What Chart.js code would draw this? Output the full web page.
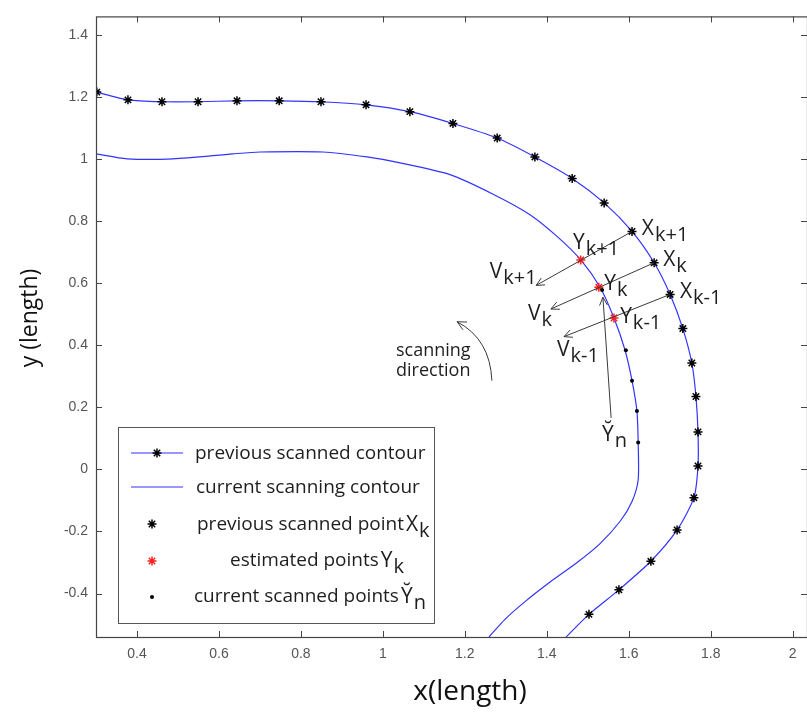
<!DOCTYPE html>
<html>
<head>
<meta charset="utf-8">
<script src="https://cdn.jsdelivr.net/npm/chart.js@4.4.0/dist/chart.umd.min.js"></script>
<style>
  html, body { margin: 0; padding: 0; background: #fff; }
  canvas { display: block; }
</style>
</head>
<body>
<canvas id="contour" width="807" height="713"></canvas>
<script>
// tick labels
const X_TICKS = [0.4, 0.6, 0.8, 1, 1.2, 1.4, 1.6, 1.8, 2];
const Y_TICKS = [-0.4, -0.2, 0, 0.2, 0.4, 0.6, 0.8, 1, 1.2, 1.4];

// previous scanned contour (line)
const PREV_LINE_X = [0.300, 0.302, 0.378, 0.461, 0.549, 0.644, 0.747, 0.849, 0.959, 1.066, 1.171, 1.279, 1.371, 1.462, 1.540, 1.608, 1.662, 1.701, 1.732, 1.754, 1.764, 1.769, 1.769, 1.759, 1.718, 1.654, 1.576, 1.503, 1.447];
const PREV_LINE_Y = [1.220, 1.216, 1.191, 1.185, 1.185, 1.188, 1.188, 1.185, 1.175, 1.153, 1.115, 1.068, 1.007, 0.938, 0.859, 0.767, 0.666, 0.564, 0.454, 0.343, 0.235, 0.121, 0.011, -0.091, -0.195, -0.296, -0.388, -0.467, -0.540];

// previous scanned points X_k (stars)
const PREV_PTS_X = [0.302, 0.378, 0.461, 0.549, 0.644, 0.747, 0.849, 0.959, 1.066, 1.171, 1.279, 1.371, 1.462, 1.540, 1.608, 1.662, 1.701, 1.732, 1.754, 1.764, 1.769, 1.769, 1.759, 1.718, 1.654, 1.576, 1.503];
const PREV_PTS_Y = [1.216, 1.191, 1.185, 1.185, 1.188, 1.188, 1.185, 1.175, 1.153, 1.115, 1.068, 1.007, 0.938, 0.859, 0.767, 0.666, 0.564, 0.454, 0.343, 0.235, 0.121, 0.011, -0.091, -0.195, -0.296, -0.388, -0.467];

// current scanning contour (line)
const CURR_LINE_X = [0.300, 0.376, 0.488, 0.634, 0.700, 0.854, 0.961, 1.042, 1.164, 1.269, 1.359, 1.425, 1.483, 1.530, 1.564, 1.591, 1.608, 1.620, 1.623, 1.623, 1.608, 1.579, 1.530, 1.474, 1.408, 1.347, 1.298, 1.259];
const CURR_LINE_Y = [1.017, 1.001, 1.001, 1.017, 1.023, 1.023, 1.007, 0.988, 0.950, 0.887, 0.821, 0.751, 0.675, 0.587, 0.488, 0.384, 0.286, 0.188, 0.087, -0.034, -0.103, -0.167, -0.239, -0.300, -0.363, -0.426, -0.483, -0.540];

// estimated points Y_k (red stars)
const EST_X = [1.483, 1.527, 1.564];
const EST_Y = [0.675, 0.587, 0.488];

// current scanned points (dots)
const CURR_PTS_X = [1.535, 1.593, 1.608, 1.620, 1.623];
const CURR_PTS_Y = [0.578, 0.384, 0.286, 0.188, 0.087];

// annotation arrows in data space: [x0, y0, x1, y1] (head at x1,y1)
const ARROWS = [
  [1.608, 0.767, 1.374, 0.593],
  [1.662, 0.666, 1.410, 0.517],
  [1.701, 0.564, 1.442, 0.428],
  [1.557, 0.166, 1.537, 0.555],
];
// scanning direction arrow: tail, control, head
const SCAN_ARROW = [1.266, 0.286, 1.262, 0.420, 1.181, 0.476];

// labels: main letter, subscript, data x (left), data y (baseline)
const LABELS = [
  ['X', 'k+1', 1.632, 0.757],
  ['X', 'k', 1.684, 0.656],
  ['X', 'k-1', 1.725, 0.552],
  ['Y', 'k+1', 1.464, 0.710],
  ['Y', 'k', 1.540, 0.577],
  ['Y', 'k-1', 1.579, 0.473],
  ['V', 'k+1', 1.261, 0.618],
  ['V', 'k', 1.354, 0.482],
  ['V', 'k-1', 1.425, 0.365],
  ['Y\u0306', 'n', 1.535, 0.093],
];

const BLUE = '#3333ff';
const RED = '#ff2020';
const INK = '#1e1e1e';
const FONT = '"Open Sans", "Noto Sans", sans-serif';

const zip = (xs, ys) => xs.map((x, i) => ({ x, y: ys[i] }));

function drawStar(ctx, x, y, r, color) {
  ctx.save();
  ctx.strokeStyle = color;
  ctx.lineWidth = 1.5;
  ctx.beginPath();
  for (let a = 0; a < 4; a++) {
    const t = a * Math.PI / 4;
    ctx.moveTo(x - Math.cos(t) * r, y - Math.sin(t) * r);
    ctx.lineTo(x + Math.cos(t) * r, y + Math.sin(t) * r);
  }
  ctx.stroke();
  ctx.restore();
}

function arrowHead(ctx, x0, y0, x1, y1, len) {
  const ang = Math.atan2(y1 - y0, x1 - x0);
  const spread = 0.45;
  ctx.beginPath();
  ctx.moveTo(x1 - len * Math.cos(ang - spread), y1 - len * Math.sin(ang - spread));
  ctx.lineTo(x1, y1);
  ctx.lineTo(x1 - len * Math.cos(ang + spread), y1 - len * Math.sin(ang + spread));
  ctx.stroke();
}

function subText(ctx, main, sub, x, y, size) {
  ctx.font = `${size}px ${FONT}`;
  ctx.fillText(main, x, y);
  const w = ctx.measureText(main).width;
  ctx.font = `${size - 1}px ${FONT}`;
  ctx.fillText(sub, x + w + 1, y + 6);
}

const overlay = {
  id: 'overlay',
  afterDatasetsDraw(chart) {
    const { ctx, scales: { x, y } } = chart;
    const px = v => x.getPixelForValue(v);
    const py = v => y.getPixelForValue(v);
    ctx.save();

    // arrows
    ctx.strokeStyle = '#3a3a3a';
    ctx.lineWidth = 1;
    ARROWS.forEach(a => {
      const x0 = px(a[0]), y0 = py(a[1]), x1 = px(a[2]), y1 = py(a[3]);
      ctx.beginPath();
      ctx.moveTo(x0, y0);
      ctx.lineTo(x1, y1);
      ctx.stroke();
      arrowHead(ctx, x0, y0, x1, y1, 9);
    });

    const s = SCAN_ARROW;
    ctx.beginPath();
    ctx.moveTo(px(s[0]), py(s[1]));
    ctx.quadraticCurveTo(px(s[2]), py(s[3]), px(s[4]), py(s[5]));
    ctx.stroke();
    arrowHead(ctx, px(s[2]), py(s[3]), px(s[4]), py(s[5]), 10);

    // labels
    ctx.fillStyle = INK;
    ctx.textBaseline = 'alphabetic';
    ctx.textAlign = 'left';
    LABELS.forEach(l => subText(ctx, l[0], l[1], px(l[2]), py(l[3]), 21));

    ctx.font = `18px ${FONT}`;
    ctx.fillText('scanning', 396, 356);
    ctx.fillText('direction', 396, 376);
    ctx.restore();
  },
  afterDraw(chart) {
    const { ctx, chartArea: a, scales: { x, y } } = chart;
    ctx.save();

    // frame with inward ticks
    ctx.strokeStyle = '#444';
    ctx.lineWidth = 1.2;
    ctx.strokeRect(a.left + 0.5, a.top + 0.5, a.right - a.left, a.bottom - a.top);
    ctx.lineWidth = 1;
    ctx.beginPath();
    X_TICKS.forEach(v => {
      const p = Math.round(x.getPixelForValue(v)) + 0.5;
      ctx.moveTo(p, a.bottom); ctx.lineTo(p, a.bottom - 6);
      ctx.moveTo(p, a.top); ctx.lineTo(p, a.top + 6);
    });
    Y_TICKS.forEach(v => {
      const p = Math.round(y.getPixelForValue(v)) + 0.5;
      ctx.moveTo(a.left, p); ctx.lineTo(a.left + 6, p);
      ctx.moveTo(a.right, p); ctx.lineTo(a.right - 6, p);
    });
    ctx.stroke();

    // legend box
    const L = { left: 118, top: 427, right: 434, bottom: 623 };
    ctx.fillStyle = '#fff';
    ctx.fillRect(L.left, L.top, L.right - L.left, L.bottom - L.top);
    ctx.strokeStyle = '#555';
    ctx.lineWidth = 1;
    ctx.strokeRect(L.left + 0.5, L.top + 0.5, L.right - L.left, L.bottom - L.top);

    ctx.strokeStyle = BLUE;
    ctx.lineWidth = 1.2;
    [453, 487].forEach(ry => {
      ctx.beginPath(); ctx.moveTo(131, ry); ctx.lineTo(183, ry); ctx.stroke();
    });
    drawStar(ctx, 157, 453, 4.5, '#000');
    drawStar(ctx, 152, 524, 4.5, '#000');
    drawStar(ctx, 152, 561, 4.5, RED);
    ctx.fillStyle = '#000';
    ctx.beginPath(); ctx.arc(152, 597, 2, 0, Math.PI * 2); ctx.fill();

    ctx.fillStyle = INK;
    ctx.textBaseline = 'alphabetic';
    ctx.textAlign = 'left';
    ctx.font = `19px ${FONT}`;
    ctx.fillText('previous scanned contour', 195, 459);
    ctx.fillText('current scanning contour', 196, 493);
    const rows = [
      ['previous scanned point', 'X', 'k', 197, 530],
      ['estimated points', 'Y', 'k', 230, 566],
      ['current scanned points', 'Y\u0306', 'n', 194, 602],
    ];
    rows.forEach(r => {
      ctx.font = `19px ${FONT}`;
      ctx.fillText(r[0], r[3], r[4]);
      const w = ctx.measureText(r[0]).width;
      subText(ctx, r[1], r[2], r[3] + w + 2, r[4] + 1, 21);
    });

    // axis titles
    ctx.fillStyle = '#111';
    ctx.textAlign = 'center';
    ctx.textBaseline = 'middle';
    ctx.font = `28px ${FONT}`;
    ctx.fillText('x(length)', 470, 692);
    ctx.font = `23px ${FONT}`;
    ctx.translate(30, 318);
    ctx.rotate(-Math.PI / 2);
    ctx.fillText('y (length)', 0, 0);
    ctx.restore();
  }
};

const tickFont = { family: '"Liberation Sans", Arial, sans-serif', size: 14 };

new Chart(document.getElementById('contour'), {
  type: 'scatter',
  data: {
    datasets: [
      {
        label: 'current scanned points',
        data: zip(CURR_PTS_X, CURR_PTS_Y),
        pointStyle: 'circle', pointRadius: 2,
        backgroundColor: '#000', borderColor: '#000', borderWidth: 0,
      },
      {
        label: 'estimated points',
        data: zip(EST_X, EST_Y),
        pointStyle: 'star', pointRadius: 4.5,
        borderColor: RED, borderWidth: 1.5,
      },
      {
        label: 'previous scanned point',
        data: zip(PREV_PTS_X, PREV_PTS_Y),
        pointStyle: 'star', pointRadius: 4.5,
        borderColor: '#000', borderWidth: 1.5,
      },
      {
        label: 'current scanning contour',
        data: zip(CURR_LINE_X, CURR_LINE_Y),
        showLine: true, pointRadius: 0,
        borderColor: BLUE, borderWidth: 1.2, tension: 0.25,
      },
      {
        label: 'previous scanned contour',
        data: zip(PREV_LINE_X, PREV_LINE_Y),
        showLine: true, pointRadius: 0,
        borderColor: BLUE, borderWidth: 1.2, tension: 0.25,
      },
    ],
  },
  options: {
    responsive: false,
    animation: false,
    events: [],
    layout: { padding: { top: 6, right: 0, bottom: 0, left: 0 }, autoPadding: false },
    plugins: { legend: { display: false }, tooltip: { enabled: false } },
    scales: {
      x: {
        type: 'linear', min: 0.3, max: 2.035,
        afterBuildTicks: s => { s.ticks = X_TICKS.map(v => ({ value: v })); },
        afterFit: s => { s.height = 76; },
        grid: { display: false, drawTicks: false },
        border: { display: false },
        ticks: { autoSkip: false, maxRotation: 0, padding: 9, font: tickFont, color: '#555', callback: v => String(v) },
      },
      y: {
        type: 'linear', min: -0.54, max: 1.46,
        afterBuildTicks: s => { s.ticks = Y_TICKS.map(v => ({ value: v })); },
        afterFit: s => { s.width = 96; },
        grid: { display: false, drawTicks: false },
        border: { display: false },
        ticks: { autoSkip: false, padding: 8, font: tickFont, color: '#555', callback: v => String(v) },
      },
    },
  },
  plugins: [overlay],
});
</script>
</body>
</html>
